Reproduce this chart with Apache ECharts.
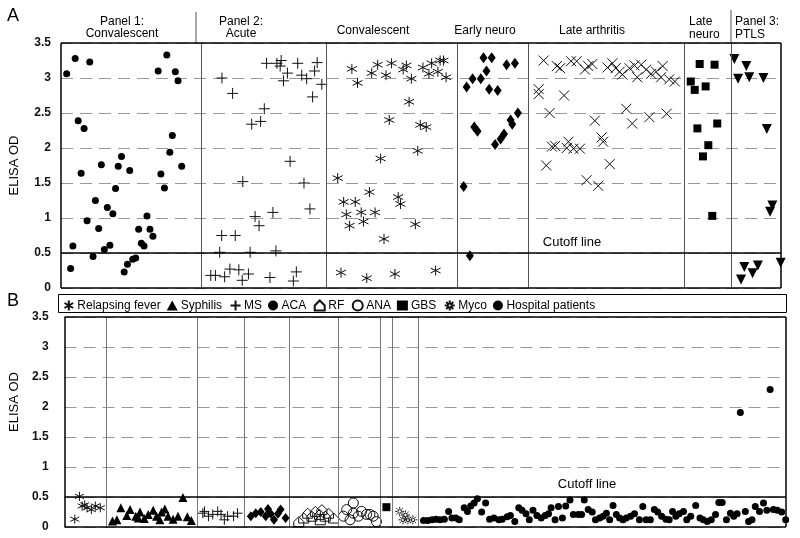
<!DOCTYPE html>
<html><head><meta charset="utf-8">
<script src="https://cdn.jsdelivr.net/npm/echarts@6/dist/echarts.min.js"></script>
<style>html,body{margin:0;padding:0;background:#fff}#c{width:800px;height:538px}</style>
</head><body><div id="c"></div>
<script>
// ---------- Panel A data: [position along panel, ELISA OD] ----------
const aPanel1Conv = [[5.7,3.06],[14.3,3.28],[29,3.23],[9.7,0.28],[12,0.60],[17.3,2.39],[23.3,2.28],[20.3,1.64],[26.3,0.96],[32.3,0.45],[34.7,1.25],[38,0.85],[40.7,1.76],[43.7,0.55],[46.7,1.15],[49.3,0.61],[52.3,1.06],[55,1.42],[57.7,1.74],[61,1.88],[63.7,0.23],[67,0.34],[69.3,1.68],[72.3,0.41],[75.3,0.43],[78.3,0.84],[81,0.64],[83.7,0.60],[86.7,1.03],[89.7,0.84],[92.7,0.74],[98,3.10],[100.7,1.63],[104.3,1.43],[106.7,3.33],[109.7,1.94],[112.3,2.18],[115.3,3.09],[118,2.96],[121.7,1.74]];
const aAcute = [[162.3,3.0],[173,2.78],[192.3,2.34],[201.3,2.38],[205,2.56],[207.3,3.21],[217.7,3.21],[221,3.17],[222,3.25],[228.3,3.07],[224.3,2.96],[238.7,3.21],[242.7,3.04],[247.7,2.99],[255.7,3.10],[258.3,3.22],[263,2.91],[253.7,2.73],[231,1.81],[245,1.50],[183.3,1.52],[251,1.13],[213.7,1.08],[195.7,1.02],[199.7,0.89],[162,0.75],[175.7,0.75],[160,0.51],[190.7,0.51],[216.7,0.53],[151,0.18],[155.7,0.18],[165,0.16],[170.3,0.27],[179.3,0.26],[182.7,0.11],[189,0.20],[210.7,0.15],[237.3,0.23],[234.3,0.10]];
const aConv2 = [[293.3,3.13],[299,2.93],[313.3,3.07],[319.3,3.19],[327.7,3.04],[333.3,3.21],[345,3.12],[348.3,3.18],[353.3,2.99],[365,3.15],[371,3.06],[373.7,3.21],[380,3.09],[382.3,3.25],[385.7,3.25],[388.3,3.01],[351,2.66],[331,2.40],[362.3,2.33],[368.3,2.30],[359.7,1.96],[322.3,1.85],[279,1.57],[311,1.37],[285,1.23],[296.7,1.23],[340,1.30],[342.3,1.20],[287.7,1.05],[302.7,1.08],[316.7,1.08],[291,0.89],[305,0.95],[357.3,0.91],[325.7,0.70],[282.3,0.22],[308.3,0.14],[336.7,0.20],[377.7,0.25]];
const aEarlyNeuro = [[426,3.29],[434.3,3.29],[449.3,3.19],[457.7,3.21],[429,3.10],[423.3,2.99],[415,2.99],[409,2.87],[431.7,2.84],[440.3,2.82],[460.7,2.50],[453.3,2.40],[455,2.34],[416.7,2.30],[420,2.24],[446.7,2.20],[443.3,2.13],[437.7,2.05],[406,1.45],[412.3,0.46]];
const aLateArthritis = [[486.7,3.25],[500,3.17],[503.3,3.14],[514.3,3.24],[520,3.24],[528.3,3.12],[531.7,3.17],[535.7,3.20],[551,3.15],[556,3.21],[559.3,3.14],[563.3,3.09],[566,3.05],[573.3,3.14],[578.3,3.18],[581,3.01],[585,3.19],[590,3.12],[595,3.06],[600,3.09],[606.7,3.17],[605,3.01],[613.3,2.98],[619,2.95],[481.7,2.84],[481.7,2.77],[507.3,2.75],[492.7,2.50],[570,2.56],[576,2.35],[593.3,2.44],[610.7,2.49],[538.3,2.39],[545,2.15],[546.7,2.09],[495,2.02],[498.3,2.03],[511.7,2.09],[510,2.00],[516.7,1.99],[523.3,1.99],[553.3,1.77],[489.3,1.75],[530,1.54],[541.7,1.46]];
const aLateNeuro = [[644,3.20],[659,3.19],[635,2.95],[639,2.83],[650,2.88],[641.7,2.28],[661.7,2.35],[652.7,2.04],[647.3,1.88],[656.7,1.03]];
const aPTLS = [[679,3.27],[691,3.17],[682.7,2.99],[694,3.01],[708.3,3.00],[711.7,2.27],[717.3,1.18],[715,1.09],[689,0.30],[702.7,0.32],[697.3,0.21],[685.7,0.12],[725.7,0.36]];
const aSeparators = [141, 267, 400, 471, 628, 676];

// ---------- Panel B data ----------
const bRelapsing = [[15,0.51],[10.3,0.13],[20.3,0.37],[22.7,0.32],[27,0.29],[31,0.35],[36,0.32],[17.7,0.35]];
const bSyphilis = [[52.7,0.12],[48.3,0.10],[56.7,0.32],[62.7,0.19],[66,0.29],[71.7,0.18],[76,0.25],[80.3,0.14],[84.3,0.21],[89.3,0.28],[92.7,0.18],[97.7,0.25],[101,0.30],[104.3,0.18],[109.3,0.13],[114.3,0.18],[119.3,0.49],[123.7,0.17],[127.7,0.11],[74.3,0.15],[96,0.12]];
const bMS = [[141,0.26],[145,0.18],[149.3,0.21],[154.3,0.26],[161,0.12],[164.3,0.18],[170.3,0.18],[174.3,0.23],[157.7,0.21],[139.3,0.23]];
const bACA = [[187.7,0.18],[192.7,0.23],[197.7,0.25],[202.7,0.18],[207.7,0.22],[211,0.12],[205,0.30],[215,0.22],[217.7,0.29],[222.7,0.15]];
const bRF = [[236,0.09],[241,0.15],[245,0.23],[249.3,0.18],[252.7,0.26],[257,0.21],[259.3,0.29],[262.7,0.18],[266,0.23],[271,0.15],[257.7,0.12]];
const bANA = [[281,0.18],[287.7,0.12],[291,0.23],[291,0.40],[296,0.18],[299.3,0.26],[304.3,0.21],[307.7,0.21],[311,0.18],[314.3,0.09],[284.3,0.29]];
const bGBS = [[324.3,0.33]];
const bMyco = [[337.7,0.26],[341,0.12],[346,0.12],[351,0.12],[343.5,0.20]];
const bHospital = [[361.7,0.11],[366,0.11],[370.3,0.12],[374.3,0.13],[378.3,0.12],[382.7,0.13],[387,0.26],[390.3,0.15],[394.3,0.15],[397.7,0.12],[402.7,0.32],[406,0.26],[409.3,0.35],[412.7,0.40],[416,0.47],[420.3,0.25],[424.3,0.40],[428.3,0.13],[432.7,0.15],[437.7,0.12],[441,0.13],[446,0.17],[449.3,0.19],[453.7,0.09],[457.7,0.32],[461,0.28],[465,0.22],[468.3,0.12],[472,0.28],[476,0.19],[480.3,0.15],[484.3,0.19],[487.7,0.22],[490.3,0.32],[494.3,0.12],[497.7,0.34],[501.7,0.15],[505,0.35],[509.3,0.45],[512.7,0.21],[517.7,0.21],[521,0.21],[523.7,0.45],[527.7,0.29],[531.7,0.25],[535,0.12],[539.3,0.15],[542.7,0.18],[546,0.23],[549.3,0.12],[552.7,0.36],[556,0.21],[559.3,0.15],[562.7,0.12],[566,0.15],[570.3,0.18],[574.3,0.22],[579.3,0.12],[582.7,0.34],[586,0.12],[590.3,0.12],[594.3,0.29],[597.7,0.25],[601.7,0.18],[606,0.13],[609.3,0.12],[612.7,0.26],[616,0.18],[619.3,0.22],[623.7,0.26],[627,0.12],[631,0.18],[636,0.36],[640.3,0.15],[643.7,0.12],[647.7,0.09],[651.7,0.12],[656,0.21],[659.3,0.41],[662.7,0.41],[667,0.12],[671,0.23],[674.3,0.18],[677.7,0.22],[681,1.91],[686,0.26],[689.3,0.09],[692.7,0.12],[696,0.34],[700.3,0.26],[704.3,0.40],[707.7,0.28],[711,2.29],[714.3,0.29],[718.3,0.28],[722.7,0.25],[726.7,0.12]];
const bSeparators = [42, 134, 181, 226, 276, 318, 330, 356];
const yTicks = {min: 0, max: 3.5, interval: 0.5};
const legendNames = ['Relapsing fever','Syphilis','MS','ACA','RF','ANA','GBS','Myco','Hospital patients'];

// ---------- symbols ----------
const PLUS = 'path://M5,0L5,10M0,5L10,5';
const CROSS = 'path://M0,0L10,10M10,0L0,10';
const ASTER = 'path://M5,0L5,10M0.67,2.5L9.33,7.5M0.67,7.5L9.33,2.5';
const HOUSE = 'path://M0,5L5,0L10,5L10,10L0,10Z';
const SUN = 'path://M7,5A2,2,0,1,1,3,5A2,2,0,1,1,7,5Z M5,0L5,2 M5,8L5,10 M0,5L2,5 M8,5L10,5 M1.5,1.5L3,3 M7,7L8.5,8.5 M1.5,8.5L3,7 M7,3L8.5,1.5';
const FONT = "'Liberation Sans', Arial, sans-serif";

const filled = {color: '#000', opacity: 1};
const stroked = {color: 'none', borderColor: '#111', borderWidth: 1, opacity: 1};

function sc(name, data, symbol, size, style, gi, extra) {
  return Object.assign({
    name, type: 'scatter', data, symbol, symbolSize: size,
    itemStyle: style, xAxisIndex: gi, yAxisIndex: gi,
    emphasis: {disabled: true}, z: 3
  }, extra || {});
}

const mlBase = {symbol: ['none','none'], silent: true, label: {show: false}, animation: false};
function border(maxX) {
  const s = {color: '#000', width: 1.5, type: 'solid'};
  return [{yAxis: 0, lineStyle: s}, {yAxis: 3.5, lineStyle: s}, {xAxis: 0, lineStyle: s}, {xAxis: maxX, lineStyle: s}];
}
const aMark = Object.assign({}, mlBase, {
  data: aSeparators.map(v => ({xAxis: v, lineStyle: {color: '#555', width: 1, type: 'solid'}}))
    .concat([{yAxis: 0.5, lineStyle: {color: '#000', width: 1.5, type: 'solid'}}]).concat(border(726))
});
const bMark = Object.assign({}, mlBase, {
  data: bSeparators.map(v => ({xAxis: v, lineStyle: {color: '#777', width: 1, type: 'solid'}}))
    .concat([{yAxis: 0.5, lineStyle: {color: '#000', width: 1.5, type: 'solid'}}]).concat(border(727))
});

function yAx(gi, margin, namePad) {
  return Object.assign({
    type: 'value', gridIndex: gi,
    name: 'ELISA OD', nameLocation: 'middle', nameRotate: 90, nameGap: 40,
    nameTextStyle: {fontFamily: FONT, fontSize: 13, color: '#000', padding: namePad},
    axisLine: {show: false}, axisTick: {show: false},
    axisLabel: {fontFamily: FONT, fontSize: 12, fontWeight: 'bold', color: '#111', margin: margin},
    splitLine: {show: true, lineStyle: {color: '#999', width: 1, type: [12, 7]}}
  }, yTicks);
}

const chart = echarts.init(document.getElementById('c'), null, {renderer: 'canvas'});
chart.setOption({
  animation: false,
  backgroundColor: '#fff',
  grid: [
    {left: 55, top: 43, width: 726, height: 245, show: false},
    {left: 59, top: 317, width: 727, height: 210, show: false}
  ],
  xAxis: [
    {type: 'value', gridIndex: 0, min: 0, max: 726, show: false},
    {type: 'value', gridIndex: 1, min: 0, max: 727, show: false}
  ],
  yAxis: [yAx(0, 10, [0,0,0,0]), Object.assign(yAx(1, 16, [0,0,0,40]), {nameGap: 30})],
  legend: {
    left: 62, top: 298, padding: 0, itemWidth: 11, itemHeight: 10, itemGap: 6,
    selectedMode: false,
    textStyle: {fontFamily: FONT, fontSize: 12, color: '#000', padding: [0,0,0,-2]},
    data: legendNames.map(n => n === 'ACA' ? {name: n, icon: 'circle'} : n)
  },
  series: [
    sc('A Panel 1 Convalescent', aPanel1Conv, 'circle', 7, filled, 0, {markLine: aMark}),
    sc('A Acute', aAcute, PLUS, 11, stroked, 0),
    sc('A Convalescent', aConv2, ASTER, 10, stroked, 0),
    sc('A Early neuro', aEarlyNeuro, 'diamond', [8, 11], filled, 0),
    sc('A Late arthritis', aLateArthritis, CROSS, 10, stroked, 0),
    sc('A Late neuro', aLateNeuro, 'rect', 8, filled, 0),
    sc('A PTLS', aPTLS, 'triangle', 10, filled, 0, {symbolRotate: 180}),
    sc('Relapsing fever', bRelapsing, ASTER, 9, stroked, 1),
    sc('Syphilis', bSyphilis, 'triangle', 9, filled, 1),
    sc('MS', bMS, PLUS, 10, stroked, 1),
    sc('ACA', bACA, 'diamond', [8, 10], filled, 1),
    sc('RF', bRF, HOUSE, 10, stroked, 1),
    sc('ANA', bANA, 'circle', 10, stroked, 1),
    sc('GBS', bGBS, 'rect', 8, filled, 1),
    sc('Myco', bMyco, SUN, 9, stroked, 1),
    sc('Hospital patients', bHospital, 'circle', 7, filled, 1, {markLine: bMark})
  ],
  graphic: [
    {type: 'text', x: 7, y: 7, style: {text: 'A', font: "18px " + FONT, fill: '#000'}},
    {type: 'text', x: 7, y: 292, style: {text: 'B', font: "18px " + FONT, fill: '#000'}},
    {type: 'text', x: 122, y: 16, style: {text: 'Panel 1:\nConvalescent', font: "12px " + FONT, fill: '#000', align: 'center', textAlign: 'center', lineHeight: 12}},
    {type: 'text', x: 241, y: 16, style: {text: 'Panel 2:\nAcute', font: "12px " + FONT, fill: '#000', align: 'center', textAlign: 'center', lineHeight: 12}},
    {type: 'text', x: 373, y: 25, style: {text: 'Convalescent', font: "12px " + FONT, fill: '#000', align: 'center', textAlign: 'center'}},
    {type: 'text', x: 485, y: 25, style: {text: 'Early neuro', font: "12px " + FONT, fill: '#000', align: 'center', textAlign: 'center'}},
    {type: 'text', x: 592, y: 25, style: {text: 'Late arthritis', font: "12px " + FONT, fill: '#000', align: 'center', textAlign: 'center'}},
    {type: 'text', x: 689, y: 15, style: {text: 'Late\nneuro', font: "12px " + FONT, fill: '#000', lineHeight: 13}},
    {type: 'text', x: 735, y: 15, style: {text: 'Panel 3:\nPTLS', font: "12px " + FONT, fill: '#000', lineHeight: 13}},
    {type: 'text', x: 572, y: 236, style: {text: 'Cutoff line', font: "13px " + FONT, fill: '#000', align: 'center', textAlign: 'center'}},
    {type: 'text', x: 587, y: 478, style: {text: 'Cutoff line', font: "13px " + FONT, fill: '#000', align: 'center', textAlign: 'center'}},
    {type: 'line', shape: {x1: 196, y1: 12, x2: 196, y2: 43}, style: {stroke: '#555', lineWidth: 1}},
    {type: 'line', shape: {x1: 731, y1: 10, x2: 731, y2: 43}, style: {stroke: '#555', lineWidth: 1}},
    {type: 'rect', shape: {x: 58.5, y: 294.5, width: 728, height: 18}, style: {stroke: '#000', lineWidth: 1, fill: 'none'}}
  ]
});
</script></body></html>
